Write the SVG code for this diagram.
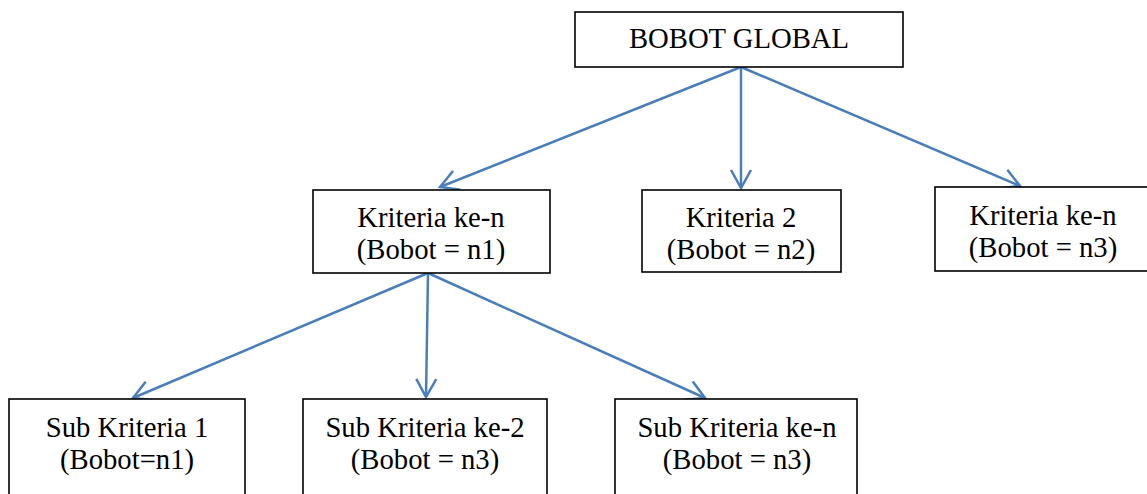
<svg xmlns="http://www.w3.org/2000/svg" width="1147" height="494" viewBox="0 0 1147 494">
  <style>
    .box { fill: #ffffff; stroke: #000000; stroke-width: 1.6; }
    .label { font-family: "Liberation Serif", "Times New Roman", serif; font-size: 28.7px; fill: #000000; text-anchor: middle; }
    .link { fill: none; stroke: #4a7ebb; stroke-width: 2.5; marker-end: url(#open-arrow); }
  </style>
  <defs>
    <!-- open V arrowhead, tip at the line end -->
    <marker id="open-arrow" viewBox="-2 -12 22 24" refX="18" refY="0" markerWidth="22" markerHeight="24" markerUnits="userSpaceOnUse" orient="auto">
      <path d="M0,-10 L18,0 L0,10" fill="none" stroke="#4a7ebb" stroke-width="2.5" stroke-linejoin="miter"/>
    </marker>
  </defs>

  <rect width="1147" height="494" fill="#ffffff"/>

  <!-- connectors -->
  <g id="connectors">
    <line class="link" x1="741" y1="67" x2="440" y2="187"/>
    <line class="link" x1="741" y1="67" x2="741" y2="188"/>
    <line class="link" x1="741" y1="67" x2="1020" y2="186"/>
    <line class="link" x1="428" y1="273" x2="133" y2="398"/>
    <line class="link" x1="428" y1="273" x2="426" y2="397"/>
    <line class="link" x1="428" y1="273" x2="705" y2="398"/>
  </g>

  <g id="bobot-global">
    <rect class="box" x="575" y="12" width="328" height="55"/>
    <text class="label" x="739" y="48">BOBOT GLOBAL</text>
  </g>

  <g id="kriteria-n1">
    <rect class="box" x="313" y="190" width="237" height="83"/>
    <text class="label" x="431" y="227">Kriteria ke-n</text>
    <text class="label" x="431" y="259">(Bobot = n1)</text>
  </g>

  <g id="kriteria-2">
    <rect class="box" x="642" y="190" width="199" height="82"/>
    <text class="label" x="741" y="227">Kriteria 2</text>
    <text class="label" x="741" y="259">(Bobot = n2)</text>
  </g>

  <g id="kriteria-n3">
    <rect class="box" x="935" y="187" width="216" height="84"/>
    <text class="label" x="1043" y="225">Kriteria ke-n</text>
    <text class="label" x="1043" y="257">(Bobot = n3)</text>
  </g>

  <g id="sub-kriteria-1">
    <rect class="box" x="9" y="399" width="236" height="100"/>
    <text class="label" x="127" y="437">Sub Kriteria 1</text>
    <text class="label" x="127" y="469">(Bobot=n1)</text>
  </g>

  <g id="sub-kriteria-2">
    <rect class="box" x="303" y="399" width="244" height="100"/>
    <text class="label" x="425" y="437">Sub Kriteria ke-2</text>
    <text class="label" x="425" y="469">(Bobot = n3)</text>
  </g>

  <g id="sub-kriteria-n">
    <rect class="box" x="615" y="399" width="242" height="100"/>
    <text class="label" x="737" y="437">Sub Kriteria ke-n</text>
    <text class="label" x="737" y="469">(Bobot = n3)</text>
  </g>
</svg>
